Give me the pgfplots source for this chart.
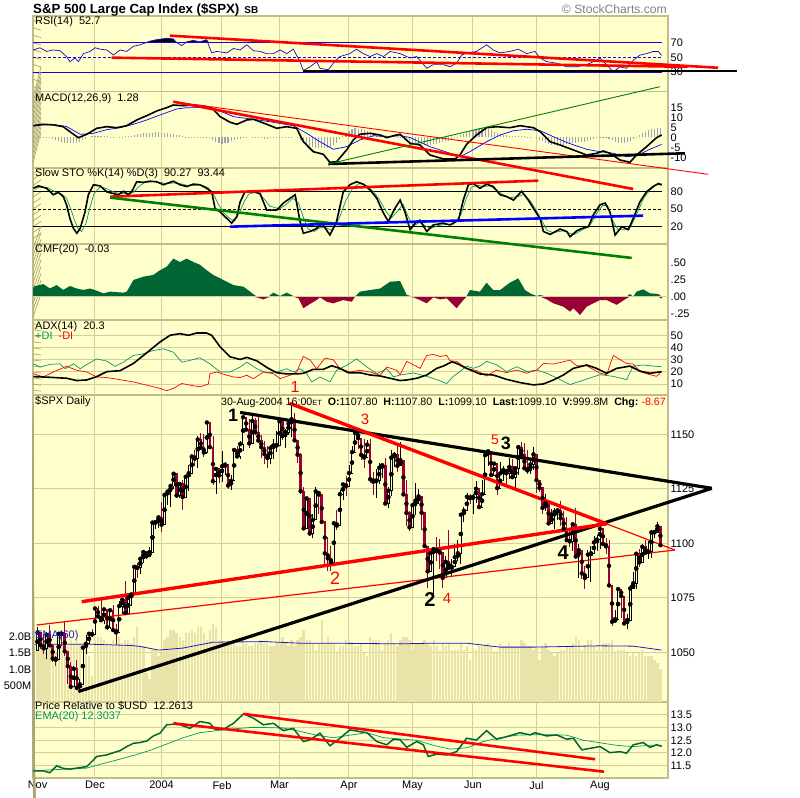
\documentclass[border=0pt]{standalone}
\usepackage{fontspec}
\setmainfont{Liberation Sans}
\usepackage{pgfplots}
\usepackage{pgfplotstable}
\pgfplotsset{compat=1.18}

\definecolor{bgy}{RGB}{255,255,204}
\definecolor{gtan}{RGB}{214,206,156}
\definecolor{btan}{RGB}{196,188,136}
\definecolor{tickc}{RGB}{170,164,120}
\definecolor{dnc}{RGB}{153,0,51}
\definecolor{volc}{RGB}{233,227,170}
\definecolor{volb}{RGB}{40,20,200}
\definecolor{cmfg}{RGB}{0,102,51}
\definecolor{cmfr}{RGB}{153,0,51}
\definecolor{dig}{RGB}{0,153,102}
\definecolor{rsib}{RGB}{30,0,220}
\definecolor{histc}{RGB}{160,160,185}
\definecolor{prg}{RGB}{0,102,51}
\definecolor{ltxt}{RGB}{128,128,128}
\definecolor{trg}{RGB}{0,128,0}

\pgfplotstableread{
t O H L C
0 1050.7 1061.4 1050.7 1059.0
1 1059.0 1059.0 1051.7 1053.3
2 1053.3 1058.4 1049.2 1051.8
3 1051.8 1058.9 1046.9 1058.1
4 1058.1 1062.4 1052.2 1053.2
5 1053.2 1053.7 1045.6 1047.1
6 1047.1 1048.2 1043.5 1046.6
7 1046.6 1059.1 1046.6 1058.5
8 1058.5 1059.6 1052.9 1058.4
9 1058.4 1063.7 1048.1 1050.4
10 1050.4 1050.4 1035.3 1043.6
11 1043.6 1045.6 1034.0 1034.2
12 1034.2 1043.5 1034.2 1042.4
13 1042.4 1046.5 1033.4 1033.7
14 1033.7 1037.6 1031.2 1035.3
15 1035.3 1052.1 1035.3 1052.1
16 1052.1 1058.0 1049.3 1053.9
17 1053.9 1058.5 1053.9 1058.5
18 1058.5 1060.6 1056.8 1058.2
19 1058.2 1070.5 1058.2 1070.1
20 1070.1 1071.2 1065.2 1066.6
21 1066.6 1074.3 1064.6 1064.7
22 1064.7 1070.4 1063.2 1069.7
23 1069.7 1069.7 1060.1 1061.5
24 1061.5 1069.6 1060.9 1069.3
25 1069.3 1071.9 1059.2 1060.2
26 1060.2 1063.0 1053.4 1059.1
27 1059.1 1073.6 1059.1 1071.2
28 1071.2 1074.8 1067.6 1074.1
29 1074.1 1082.8 1068.0 1068.0
30 1068.0 1075.9 1068.0 1075.1
31 1075.1 1076.5 1071.1 1076.5
32 1076.5 1089.5 1076.5 1089.2
33 1089.2 1091.1 1084.2 1088.7
34 1088.7 1092.9 1086.1 1092.9
35 1092.9 1096.0 1091.0 1096.0
36 1096.0 1096.4 1092.7 1094.0
37 1094.0 1098.5 1094.0 1095.9
38 1095.9 1109.5 1095.9 1109.5
39 1109.5 1109.8 1106.4 1109.6
40 1109.6 1112.6 1106.9 1111.9
41 1111.9 1118.9 1105.1 1108.5
42 1108.5 1122.2 1108.5 1122.2
43 1122.2 1124.5 1117.4 1123.7
44 1123.7 1126.3 1116.5 1126.3
45 1126.3 1131.9 1124.9 1131.9
46 1131.9 1131.9 1120.9 1121.9
47 1121.9 1127.9 1120.9 1127.2
48 1127.2 1129.1 1115.2 1121.2
49 1121.2 1130.8 1121.2 1130.5
50 1130.5 1136.0 1124.1 1132.1
51 1132.1 1139.8 1132.1 1139.8
52 1139.8 1142.9 1135.4 1138.8
53 1138.8 1149.2 1134.4 1147.6
54 1147.6 1150.5 1143.0 1143.9
55 1143.9 1150.3 1139.5 1141.6
56 1141.6 1155.4 1141.0 1155.4
57 1155.4 1155.4 1143.9 1144.1
58 1144.1 1149.1 1126.5 1128.5
59 1128.5 1134.4 1122.4 1134.1
60 1134.1 1134.4 1127.8 1131.1
61 1131.1 1142.5 1127.9 1135.3
62 1135.3 1137.4 1131.3 1136.0
63 1136.0 1136.0 1124.7 1126.5
64 1126.5 1131.2 1124.4 1128.6
65 1128.6 1142.8 1128.6 1142.8
66 1142.8 1144.5 1139.2 1139.8
67 1139.8 1147.0 1138.7 1145.5
68 1145.5 1158.9 1142.3 1157.8
69 1157.8 1157.8 1151.4 1152.1
70 1152.1 1156.9 1143.6 1145.8
71 1145.8 1158.9 1145.8 1156.1
72 1156.1 1157.4 1149.5 1151.0
73 1151.0 1158.6 1146.9 1147.1
74 1147.1 1149.8 1139.1 1144.1
75 1144.1 1146.7 1136.5 1140.9
76 1140.9 1144.5 1134.4 1139.1
77 1139.1 1145.2 1136.4 1143.7
78 1143.7 1147.7 1138.6 1144.9
79 1144.9 1151.7 1141.8 1144.9
80 1144.9 1157.5 1144.9 1156.0
81 1156.0 1156.5 1147.3 1149.1
82 1149.1 1152.4 1143.8 1151.0
83 1151.0 1154.9 1149.8 1154.9
84 1154.9 1163.2 1148.8 1156.9
85 1156.9 1159.9 1146.9 1147.2
86 1147.2 1147.3 1136.8 1140.6
87 1140.6 1141.5 1122.5 1123.9
88 1123.9 1125.8 1106.8 1106.8
89 1106.8 1120.6 1106.8 1120.6
90 1120.6 1120.6 1103.4 1104.5
91 1104.5 1113.6 1102.6 1110.7
92 1110.7 1125.8 1110.7 1123.8
93 1123.8 1123.8 1113.4 1122.3
94 1122.3 1122.7 1109.7 1109.8
95 1109.8 1109.8 1089.5 1095.4
96 1095.4 1102.8 1087.2 1093.1
97 1093.1 1098.9 1087.2 1091.3
98 1091.3 1110.4 1091.3 1109.2
99 1109.2 1115.3 1106.1 1108.1
100 1108.1 1124.4 1108.1 1122.5
101 1122.5 1127.6 1119.7 1127.0
102 1127.0 1130.8 1121.5 1126.2
103 1126.2 1135.7 1126.2 1132.2
104 1132.2 1144.8 1132.2 1141.8
105 1141.8 1150.6 1141.6 1150.6
106 1150.6 1150.6 1143.3 1148.2
107 1148.2 1148.2 1138.4 1140.5
108 1140.5 1148.0 1134.4 1139.3
109 1139.3 1147.3 1139.3 1145.2
110 1145.2 1147.8 1127.7 1129.4
111 1129.4 1132.5 1122.2 1128.2
112 1128.2 1134.1 1120.8 1128.8
113 1128.8 1136.8 1127.0 1134.6
114 1134.6 1136.2 1129.8 1135.8
115 1135.8 1139.3 1118.0 1118.2
116 1118.2 1125.7 1116.0 1124.1
117 1124.1 1142.8 1121.9 1139.3
118 1139.3 1141.9 1134.8 1140.6
119 1140.6 1145.1 1132.9 1135.5
120 1135.5 1146.6 1135.5 1138.1
121 1138.1 1138.1 1121.7 1122.4
122 1122.4 1128.8 1108.0 1113.9
123 1113.9 1114.8 1105.7 1107.3
124 1107.3 1118.2 1107.3 1117.5
125 1117.5 1127.7 1112.9 1119.6
126 1119.6 1125.1 1117.9 1121.5
127 1121.5 1121.5 1106.3 1114.0
128 1114.0 1114.0 1098.6 1098.7
129 1098.7 1098.7 1079.6 1087.1
130 1087.1 1095.7 1087.1 1095.5
131 1095.5 1097.6 1076.3 1097.3
132 1097.3 1102.8 1091.8 1096.4
133 1096.4 1102.1 1088.2 1095.7
134 1095.7 1095.7 1079.4 1084.1
135 1084.1 1094.1 1084.1 1091.5
136 1091.5 1105.9 1088.5 1088.7
137 1088.7 1092.6 1085.0 1089.2
138 1089.2 1099.6 1089.2 1093.6
139 1093.6 1101.3 1091.8 1095.4
140 1095.4 1113.8 1090.7 1113.1
141 1113.1 1116.7 1109.9 1114.9
142 1114.9 1123.0 1114.9 1121.3
143 1121.3 1122.7 1118.1 1120.7
144 1120.7 1122.7 1113.3 1121.2
145 1121.2 1128.5 1118.3 1125.0
146 1125.0 1125.0 1116.5 1116.6
147 1116.6 1129.2 1116.6 1122.5
148 1122.5 1140.5 1122.5 1140.4
149 1140.4 1142.2 1135.4 1142.2
150 1142.2 1142.2 1131.2 1131.3
151 1131.3 1136.5 1131.3 1136.5
152 1136.5 1136.5 1122.2 1125.3
153 1125.3 1137.4 1125.3 1132.0
154 1132.0 1135.3 1128.5 1133.6
155 1133.6 1133.6 1126.9 1132.1
156 1132.1 1138.9 1129.6 1135.0
157 1135.0 1138.8 1129.6 1130.3
158 1130.3 1135.1 1124.4 1134.4
159 1134.4 1144.2 1131.2 1144.1
160 1144.1 1146.3 1139.8 1140.7
161 1140.7 1145.9 1134.2 1134.4
162 1134.4 1142.6 1131.7 1133.4
163 1133.4 1138.3 1131.6 1136.2
164 1136.2 1144.2 1133.6 1140.8
165 1140.8 1140.8 1123.1 1128.9
166 1128.9 1129.2 1123.7 1125.4
167 1125.4 1125.4 1113.2 1116.2
168 1116.2 1122.4 1114.9 1118.3
169 1118.3 1119.1 1108.7 1109.1
170 1109.1 1115.6 1109.1 1112.8
171 1112.8 1116.1 1106.7 1114.4
172 1114.4 1116.3 1110.6 1115.1
173 1115.1 1119.6 1107.8 1111.5
174 1111.5 1114.6 1106.6 1106.7
175 1106.7 1112.2 1101.1 1101.4
176 1101.4 1106.4 1098.3 1100.9
177 1100.9 1108.9 1096.4 1108.7
178 1108.7 1116.3 1093.9 1093.9
179 1093.9 1099.7 1084.2 1096.8
180 1096.8 1096.8 1083.6 1086.2
181 1086.2 1089.8 1078.8 1084.1
182 1084.1 1096.7 1084.1 1094.8
183 1094.8 1098.8 1082.2 1095.4
184 1095.4 1103.5 1095.4 1100.4
185 1100.4 1103.7 1096.4 1101.7
186 1101.7 1108.6 1097.2 1106.6
187 1106.6 1106.6 1099.3 1099.7
188 1099.7 1102.5 1095.2 1098.6
189 1098.6 1101.4 1079.6 1080.7
190 1080.7 1080.7 1062.2 1064.0
191 1064.0 1069.5 1063.9 1065.2
192 1065.2 1079.0 1065.2 1079.0
193 1079.0 1079.0 1065.9 1075.8
194 1075.8 1075.8 1062.4 1063.2
195 1063.2 1067.6 1060.7 1064.8
196 1064.8 1080.7 1064.8 1079.3
197 1079.3 1086.8 1079.3 1081.7
198 1081.7 1095.2 1078.9 1095.2
199 1095.2 1097.5 1089.1 1091.2
200 1091.2 1099.5 1091.2 1098.4
201 1098.4 1101.4 1094.7 1095.7
202 1095.7 1100.9 1092.8 1096.2
203 1096.2 1106.3 1093.2 1105.0
204 1105.0 1106.3 1102.2 1105.1
205 1105.1 1109.7 1104.6 1107.8
206 1107.8 1107.8 1099.1 1099.1
}\candles

\pgfplotstableread{
v
1.7
1.8
1.9
1.8
1.7
1.6
1.5
1.8
1.8
1.7
1.7
1.9
1.8
1.9
1.8
1.6
1.8
1.4
0.8
1.9
2.0
2.0
1.9
1.8
1.7
1.9
1.8
2.0
1.8
1.9
1.9
1.8
2.0
2.3
1.7
1.7
0.9
0.7
1.6
1.6
1.4
1.5
1.9
2.0
2.2
2.2
2.1
2.0
1.9
2.1
2.1
2.2
2.1
2.3
2.3
2.1
1.9
2.2
2.4
2.3
1.9
1.9
1.8
1.9
1.8
1.8
1.7
1.7
2.0
1.8
1.7
1.7
1.8
1.8
1.9
1.8
1.9
1.7
1.7
1.8
1.8
2.0
1.8
1.7
1.9
1.7
1.9
2.0
2.2
1.9
1.9
1.8
1.6
1.8
2.5
1.8
2.0
1.8
1.8
1.5
1.7
1.7
1.9
1.9
1.8
1.7
1.7
1.8
1.5
1.4
2.0
1.9
1.9
1.9
1.6
1.8
1.9
2.1
1.8
1.7
1.9
2.0
2.0
1.9
1.6
1.8
1.8
1.8
1.9
1.8
1.7
1.9
1.7
1.6
1.8
1.7
1.8
1.6
1.6
1.6
1.8
1.6
1.7
1.3
1.6
1.6
1.7
1.7
1.7
1.8
1.7
1.5
1.5
1.8
1.7
1.7
1.8
1.7
1.7
1.7
1.9
1.8
1.7
1.7
1.6
1.7
1.3
1.7
1.8
1.6
1.5
1.4
1.5
1.6
1.6
1.7
1.7
1.8
2.0
1.9
1.6
1.7
1.9
1.9
1.7
1.6
1.6
1.8
1.8
1.8
1.9
1.5
1.6
1.6
1.6
1.5
1.4
1.5
1.4
1.5
1.6
1.4
1.4
1.4
1.3
1.2
1.0
}\volume

\pgfplotstableread{
h
0.3
0.4
0.2
0.1
-0.5
-1.0
-1.5
-2.0
-2.3
-2.6
-2.9
-3.0
-3.0
-2.8
-2.2
-1.5
-0.8
0
0.5
0.8
0.9
0.8
0.7
0.5
0.3
0.1
0.0
0.2
0.3
0.5
0.7
0.9
1.2
1.5
1.8
2.0
2.2
2.3
2.4
2.5
2.5
2.4
2.3
2.1
1.9
1.6
1.3
1.0
0.6
0.3
0.2
0.1
0.2
0.3
0.2
0.1
0.1
-0.1
-1.2
-2.2
-2.8
-3.1
-3.0
-2.6
-2.0
-1.4
-1.0
-0.8
-0.5
-0.2
0
-0.2
-0.3
-0.4
-0.5
-0.6
-0.6
-0.5
-0.4
-0.3
-0.2
-0.1
0.1
0.2
0.2
0
-0.5
-1.5
-2.8
-3.8
-4.5
-5.0
-5.3
-5.5
-5.5
-5.5
-5.4
-5.0
-4.0
-2.8
-1.0
0.8
2.2
3.4
4.2
4.5
4.4
4.0
3.5
3.0
2.5
2.0
1.7
1.5
1.3
1.1
0.9
0.8
0.6
0.4
0.1
-0.5
-1.2
-2.0
-2.6
-3.0
-3.3
-3.5
-3.7
-3.8
-3.7
-3.5
-3.2
-2.8
-2.4
-2.0
-1.6
-1.0
-0.4
0.3
1.0
1.8
2.5
3.2
3.8
4.2
4.5
4.5
4.3
4.0
3.5
2.8
2.2
1.6
1.2
1.0
0.9
0.8
0.8
0.9
0.8
0.6
0.4
0.2
0
-0.5
-1.2
-2.0
-2.8
-3.4
-3.8
-4.0
-4.2
-4.0
-3.7
-3.4
-3.0
-2.8
-2.6
-2.5
-2.4
-2.2
-1.8
-1.2
-0.6
-0.1
0.3
0.4
0.2
-0.6
-1.5
-2.3
-2.8
-3.0
-2.9
-2.5
-1.8
-0.8
0.2
1.2
2.0
2.8
3.5
4.0
4.4
4.6
4.7
}\hist

\pgfplotstableread{
t c
-1.5 0
-1.4 0.147
1.9 0.186
4.1 0.12
6.3 0.17
8.5 0.10
10.7 0.157
13.0 0.12
15.2 0.10
17.4 0.12
19.6 0.088
21.8 0.049
24.0 0.074
28.4 0.059
29.5 0.074
31.7 0.245
35.0 0.294
38.3 0.32
40.5 0.39
42.7 0.44
44.9 0.56
47.1 0.51
49.3 0.56
51.5 0.51
53.7 0.47
55.9 0.39
58.1 0.32
60.4 0.27
62.6 0.22
64.8 0.17
68.1 0.147
70.3 0.074
72.5 -0.01
74.7 -0.04
76.3 -0.01
78.0 0.06
80.2 0.01
82.4 0.06
84.6 0.01
86.3 -0.025
87.9 -0.17
90.1 -0.108
92.3 -0.05
93.4 -0.01
95.6 -0.074
97.8 -0.098
101.1 -0.05
103.9 -0.074
105.0 0
106.6 0.074
110.0 0.098
113.3 0.12
116.6 0.22
119.9 0.23
122.1 0.025
124.3 -0.01
126.5 -0.05
128.7 -0.098
130.9 -0.01
133.1 -0.04
135.3 -0.025
137.5 -0.12
138.6 -0.17
140.8 -0.05
141.9 0.01
143.0 0.098
146.3 0.074
148.5 0.206
150.7 0.098
153.0 0.098
156.2 0.206
159.0 0.27
161.2 0.098
162.9 0.05
165.1 0.01
166.2 0.025
168.4 -0.04
170.6 -0.098
173.9 -0.147
176.1 -0.22
177.2 -0.17
179.4 -0.27
181.6 -0.147
183.8 -0.098
186.0 -0.05
188.2 -0.05
191.5 -0.12
194.8 -0.025
195.9 0.04
197.0 0
198.1 0.074
200.3 0.108
202.5 0.05
205.3 0.04
206.4 -0.03
206.5 0
}\cmf

\pgfplotsset{
  panel/.style={
    set layers,
    scale only axis, width=635bp, anchor=south west,
    xmin=-1.5, xmax=208.5, clip=false,
    axis background/.style={fill=bgy},
    axis line style={btan, line width=1.5bp},
    xtick={19,41,61,80,103,124,144,165,186},
    xticklabels={},
    xmajorgrids,
    major grid style={gtan, line width=1bp},
    ytick pos=right,
    yticklabel pos=right,
    major tick length=0pt,
    minor tick length=0pt,
    yticklabel style={font=\fontsize{11}{13}\selectfont, anchor=west, inner sep=0pt, xshift=2.5bp},
    xticklabel style={font=\fontsize{11}{13}\selectfont, anchor=north, inner sep=0pt, yshift=-3bp},
  },
}
\newcommand{\lticks}[1]{\pgfplotsinvokeforeach{#1}{\draw[tickc, line width=0.7bp] (axis cs:-1.5,##1) -- ++(3.5bp,0);}}

\begin{document}
\begin{tikzpicture}

% ---------------- RSI
\begin{axis}[panel, at={(33bp,706.3bp)}, height=75.7bp, ymin=3.1, ymax=106.3,
  ytick={30,50,70}, yticklabels={30,50,70}]
\lticks{10,20,...,100}
\addplot[fill=black, draw=none] coordinates {(35.8,70)(37.2,72)(39.4,74)(42.7,76)(44.9,75)(46,70)} -- cycle;
\addplot[fill=black, draw=none] coordinates {(48.6,70)(49.3,71)(51.5,73)(53.7,71)(55.9,74)(56.8,70)} -- cycle;
\draw[rsib, line width=0.9bp] (axis cs:-1.5,70) -- (axis cs:206.4,70);
\draw[rsib, line width=0.9bp] (axis cs:-1.5,30) -- (axis cs:206.4,30);
\draw[rsib, line width=0.9bp, dash pattern=on 3bp off 2bp] (axis cs:-1.5,50) -- (axis cs:206.4,50);
\addplot[rsib, line width=0.7bp] coordinates {(-1.4,60)(0.8,63)(3,58)(5.2,60)(7.4,59)(9.6,51)(10.7,44)(12.4,49)(13.5,44)(15.2,55)(17.4,58)(19,63)(20.7,61)(22.9,60)(25.1,53)(27.3,60)(29.5,58)(31.7,65)(33.9,67)(37.2,72)(39.4,74)(42.7,76)(44.9,75)(46,70)(47.7,66)(49.3,71)(51.5,73)(53.7,71)(55.9,74)(57.6,56)(59.2,58)(62.6,56)(64.8,62)(67,60)(69.2,67)(71.4,59)(73.6,58)(75.8,55)(78,55)(80.2,60)(82.4,55)(84.6,61)(86.8,44)(87.9,32)(90.1,37)(92.3,44)(93.4,35)(96.2,33)(97.8,42)(100,51)(103.3,55)(105.5,61)(107.7,55)(110,51)(112.2,55)(114.4,51)(116.6,58)(119.9,55)(123.2,49)(125.4,51)(128.7,35)(130.9,40)(134.2,40)(136.4,37)(138.6,42)(140.3,53)(141.9,56)(145.2,58)(148.5,67)(150.7,60)(153,56)(156.2,58)(159,61)(161.8,55)(164.5,58)(166.2,49)(168.4,44)(171.7,42)(175,37)(178.3,37)(181.6,40)(184.9,46)(186,49)(188.2,40)(190.4,30)(192.6,37)(194.8,35)(197,46)(199.2,53)(201.4,55)(203.6,58)(205.3,58)(206.4,52.7)};
\draw[red, line width=2.6bp] (axis cs:43.8,79.5) -- (axis cs:225.1,35.7);
\draw[red, line width=2.6bp] (axis cs:24.5,49.5) -- (axis cs:215,37);
\draw[black, line width=2.6bp] (axis cs:87.9,31.4) -- (axis cs:231.2,31.4);
\end{axis}

% ---------------- MACD
\begin{axis}[panel, at={(33bp,630bp)}, height=76.3bp, ymin=-15.25, ymax=22.9,
  ytick={-10,-5,0,5,10,15}, yticklabels={-10,-5,0,5,10,15}]
\lticks{-12.5,-10,...,20}
\addplot[ycomb, histc, line width=1.1bp] table[x expr=\coordindex, y=h] {\hist};
\addplot[blue, line width=0.7bp] coordinates {(-1.4,6.0)(5.2,6.5)(9.6,5.5)(14.1,1.6)(18.5,2.1)(22.9,3.9)(27.3,4.9)(31.7,6.6)(36.1,8.75)(40.5,11.25)(46.0,14.25)(49.3,14.9)(56.0,15.0)(60.4,13.25)(64.8,10.4)(71.4,9.1)(78.0,7.6)(84.6,5.9)(89.0,2.1)(93.4,-2.1)(97.8,-5.9)(102.2,-4.6)(106.6,-1.25)(111.1,0.9)(115.5,0.4)(119.9,0.9)(123.2,0)(129.8,-4.6)(134.2,-6.75)(139.7,-9.6)(143.0,-7.1)(148.5,-2.1)(153.0,1.25)(157.4,3.4)(161.8,4.1)(166.2,3.4)(170.6,0.4)(175.0,-2.5)(181.6,-5.9)(186.0,-7.1)(190.4,-7.9)(194.8,-9.6)(198.1,-9.1)(202.5,-5.9)(206.4,-3.4)};
\addplot[black, line width=1.6bp] coordinates {(-1.4,5.9)(1.9,6.6)(5.2,6.3)(8.5,5.4)(10.7,2.9)(13.5,-0.1)(16.3,1.6)(19.6,4.6)(22.9,5.4)(26.2,4.9)(29.5,5.9)(32.8,8.75)(36.1,10.9)(39.4,13.25)(42.7,14.9)(44.9,16.25)(48.2,15.9)(51.5,16.25)(54.8,15.75)(57.6,14.9)(60.4,10.4)(63.7,7.6)(65.9,6.6)(69.2,8.75)(71.4,9.1)(75.8,6.6)(79.1,4.6)(82.4,5.4)(85.7,4.6)(87.9,-2.1)(91.2,-7.1)(94.5,-8.4)(96.7,-12.4)(98.9,-12.1)(102.2,-6.25)(104.4,-1.25)(106.6,1.6)(110.0,2.1)(113.3,1.25)(115.5,-0.1)(117.7,0.9)(119.9,1.6)(123.2,-2.9)(126.5,-3.75)(129.8,-8.75)(134.2,-10.75)(138.1,-10.75)(139.7,-8.75)(141.9,-3.4)(145.2,1.25)(148.5,4.9)(151.8,5.4)(156.2,4.9)(159.6,5.9)(164.0,4.9)(166.2,2.9)(169.5,-2.1)(172.8,-3.75)(177.2,-6.25)(181.6,-8.75)(184.9,-7.9)(187.1,-6.75)(189.3,-7.9)(192.6,-11.25)(195.9,-12.4)(198.1,-8.75)(201.4,-4.6)(204.7,-0.1)(206.4,1.28)};
\draw[red, line width=2.6bp] (axis cs:44.9,17.9) -- (axis cs:197.0,-25.75);
\draw[red, line width=0.9bp] (axis cs:44.9,17.9) -- (axis cs:221.8,-18.4);
\draw[black, line width=2.6bp] (axis cs:96.2,-13.25) -- (axis cs:214.1,-7.9);
\draw[trg, line width=0.9bp] (axis cs:96.2,-13.25) -- (axis cs:205.8,25.4);
\end{axis}

% ---------------- Slow STO
\begin{axis}[panel, at={(33bp,554bp)}, height=76bp, ymin=-9.2, ymax=119.3,
  ytick={20,50,80}, yticklabels={20,50,80}]
\lticks{0,10,...,110}
\draw[black, line width=0.7bp] (axis cs:-1.5,80) -- (axis cs:206.4,80);
\draw[black, line width=0.7bp] (axis cs:-1.5,20) -- (axis cs:206.4,20);
\draw[black, line width=0.7bp, dash pattern=on 3bp off 2bp] (axis cs:-1.5,50) -- (axis cs:206.4,50);
\addplot[dig, line width=0.7bp] coordinates {(-1.4,86)(1,87)(3.5,86)(6,78)(8,75)(9.6,68)(11,50)(12.3,30)(13.5,16)(14.6,12)(16,25)(17.2,50)(18.6,75)(20.7,88)(23,84)(25.5,78)(27.5,76)(29.5,77)(31.5,77)(33.5,88)(35.5,95)(38,96)(40.5,95)(42.5,93)(45.5,94)(48,92)(50,89)(52,90)(54.5,90)(56.5,86)(58.5,72)(59.8,58)(61.5,44)(63.5,34)(65.2,30)(66.8,44)(68.3,62)(69.8,75)(72.5,79)(74.8,68)(76.8,55)(80,50)(82.3,58)(84.5,68)(86.3,60)(88,35)(89.5,16)(91.5,12)(93.5,19)(95.5,18)(97.5,13)(99.8,35)(102,65)(104.3,86)(106.5,93)(108.8,90)(111,80)(113.3,64)(115.2,46)(117,35)(119,46)(120.9,58)(122.5,38)(124.3,21)(126.2,27)(128,22)(130,17)(132.5,22)(135,24)(137.5,24)(140,40)(141.8,68)(143.5,87)(145.5,90)(147.5,88)(149.7,89)(152,81)(154,74)(156.3,69)(158.8,71)(161,75)(163.2,62)(165,47)(166.8,30)(168.5,14)(170.5,10)(173.8,13)(176,9)(177.5,7)(179.2,12)(181,17)(183,25)(185,43)(186.8,56)(188.5,56)(190,32)(192,15)(194.3,15)(196.2,20)(198.2,42)(200.4,68)(202.5,82)(204.4,90)(206.4,93.4)};
\addplot[black, line width=1.6bp] coordinates {(-1.4,85)(0.3,89)(3.0,85)(5.2,74)(6.9,78)(8.5,71)(9.6,57)(10.7,34)(11.9,17)(13.0,9)(14.1,17)(15.7,45)(16.8,74)(18.5,91)(20.7,89)(22.9,79)(25.1,76)(26.7,74)(28.4,80)(30.0,74)(31.1,79)(32.8,96)(35.0,95)(37.2,97)(39.4,96)(41.6,91)(44.9,97)(47.1,91)(49.3,88)(51.5,92)(53.7,91)(55.9,85)(57.6,79)(58.7,51)(60.4,45)(62.6,34)(64.2,26)(65.9,37)(67.0,62)(68.6,79)(71.4,79)(73.6,76)(75.8,48)(79.1,48)(81.3,60)(83.5,68)(85.2,74)(86.8,29)(87.9,9)(90.1,12)(92.3,17)(94.0,26)(96.7,6)(98.9,29)(101.1,79)(103.3,91)(105.5,96)(107.7,92)(110.0,82)(112.2,68)(114.4,43)(116.0,29)(118.2,51)(119.9,65)(121.5,45)(123.2,15)(125.4,29)(126.5,31)(128.7,12)(130.9,23)(134.2,26)(136.4,23)(139.2,31)(140.8,65)(142.5,91)(144.1,93)(146.3,85)(148.5,92)(150.7,88)(153.0,74)(155.1,71)(157.4,65)(160.1,80)(162.3,65)(164.0,51)(166.2,34)(167.3,12)(169.5,7)(172.8,16)(175.0,12)(176.1,3)(178.3,13)(180.0,17)(182.2,20)(183.8,40)(186.0,57)(187.7,60)(189.3,45)(191.0,6)(193.2,20)(195.4,15)(197.0,34)(199.2,62)(201.4,79)(203.6,88)(205.3,93)(206.4,90.27)};
\draw[red, line width=2.6bp] (axis cs:24.0,70.8) -- (axis cs:165.6,97.9);
\draw[trg, line width=2.6bp] (axis cs:24.0,69.2) -- (axis cs:196.5,-32.8);
\draw[blue, line width=2.6bp] (axis cs:63.7,20.1) -- (axis cs:200.3,38.7);
\end{axis}

% ---------------- CMF
\begin{axis}[panel, at={(33bp,478bp)}, height=76bp, ymin=-0.343, ymax=0.775,
  ytick={-0.25,0,0.25,0.5}, yticklabels={-.25,.00,.25,.50}]
\lticks{-0.3,-0.2,...,0.7}
\addplot[fill=cmfg, draw=none, y filter/.expression={max(y,0)}] table[x=t, y=c] {\cmf} -- cycle;
\addplot[fill=cmfr, draw=none, y filter/.expression={min(y,0)}] table[x=t, y=c] {\cmf} -- cycle;
\draw[gtan, line width=0.8bp] (axis cs:-1.5,0) -- (axis cs:208.5,0);
\end{axis}

% ---------------- ADX
\begin{axis}[panel, at={(33bp,403bp)}, height=75bp, ymin=0.94, ymax=63.1,
  ytick={10,20,30,40,50}, yticklabels={10,20,30,40,50}, ymajorgrids]
\lticks{5,10,...,60}
\addplot[dig, line width=0.7bp] coordinates {(-1.4,26.8)(0.8,24.1)(4.1,26.3)(7.4,26.8)(9.1,22.7)(11.9,26.8)(14.1,22.7)(16.3,26.3)(19.6,30.9)(22.9,29)(25.6,24.7)(28.4,28.2)(31.7,33.7)(35.0,35.1)(38.3,37.8)(41.6,39.2)(44.9,36.4)(47.7,28.2)(50.4,29.6)(53.7,31.8)(57.0,26.8)(60.4,20)(63.7,20)(67.0,24.1)(69.2,28.2)(72.5,22.7)(75.8,19.2)(79.1,20)(82.4,22.7)(84.6,20)(86.8,22.7)(89.0,18.6)(90.7,11.8)(93.4,15.9)(96.7,11.8)(98.9,21.4)(102.2,25.5)(105.5,30.9)(108.9,24.1)(112.2,18.6)(115.5,22.7)(117.7,15.9)(119.9,17.5)(124.3,19.2)(128.7,16.4)(132.0,13.7)(135.3,10.4)(137.5,16.4)(139.7,20.3)(141.9,24.9)(144.1,23)(146.3,24.9)(148.5,28.8)(151.8,26)(155.1,20.3)(158.5,24.4)(161.8,20.3)(165.1,21.6)(168.4,19)(172.8,13.7)(176.1,9.6)(179.4,12.3)(182.7,15)(186.0,17.8)(190.4,16.4)(194.8,13.7)(197.0,24.9)(200.3,25.8)(203.6,24.9)(206.4,24.4)};
\addplot[red, line width=0.7bp] coordinates {(-1.4,18.6)(1.9,15.9)(5.2,20)(9.6,24.7)(13.0,21.4)(16.3,20)(19.6,15.9)(22.9,15.4)(27.3,13.6)(31.7,11.8)(36.1,9.1)(40.5,6.4)(42.7,4.5)(44.9,6.4)(47.7,10.5)(50.4,9.1)(53.7,7.7)(56.5,10)(57.0,18.6)(59.2,20)(62.6,17.3)(64.8,15.9)(67.0,15.4)(69.2,17.3)(71.4,14.5)(74.7,20)(78.0,18.6)(80.2,14.5)(83.5,17.3)(85.7,20)(87.9,32.9)(90.1,30.1)(92.3,22.7)(95.1,31.5)(97.8,30.1)(100.0,22.7)(103.3,20)(106.6,21.4)(110.0,20)(113.3,17.3)(115.5,24.1)(118.8,21.4)(119.9,17.8)(122.1,28.8)(126.5,23)(128.7,33.7)(130.9,34.5)(133.1,32.9)(135.3,33.7)(136.4,29.3)(138.6,28.8)(141.9,23)(145.2,21.1)(148.5,16.7)(151.8,21.6)(155.1,19.5)(158.5,21.6)(161.8,19)(165.1,21.6)(167.3,27.1)(170.6,26.6)(173.9,28.5)(176.1,29.9)(178.3,25.2)(181.6,25.2)(186.0,19)(188.2,17.8)(190.4,33.7)(192.6,30.3)(194.8,27.1)(197.0,26.6)(199.2,20.3)(202.5,17.8)(204.7,16.4)(206.4,20.3)};
\addplot[black, line width=1.6bp] coordinates {(-1.4,16.2)(4.1,15.6)(9.6,14.8)(13.0,12.9)(16.3,13.4)(19.6,16.2)(22.9,20.3)(27.3,21.1)(31.7,27.1)(36.1,35.9)(40.5,44.9)(43.8,50.4)(47.1,51.8)(49.9,50.4)(52.6,52.3)(55.9,52.3)(57.6,50.4)(60.4,40.8)(63.7,32.6)(67.0,30.4)(69.2,32.1)(72.5,29.3)(75.8,23.8)(79.1,19.4)(82.4,18.4)(85.7,18.4)(87.9,18.9)(91.2,22.2)(94.5,22.2)(97.3,25.2)(100.0,23)(102.8,19.4)(106.6,19.4)(110.0,17.5)(113.3,16.7)(116.6,14.8)(119.9,12.9)(122.1,13.4)(125.4,14.8)(128.7,17.5)(132.0,23)(134.2,24.9)(137.0,28.4)(138.6,27.1)(141.9,23)(146.3,18.4)(150.7,17.5)(155.1,13.9)(159.6,11.2)(164.0,9.3)(167.3,10.1)(170.6,13.4)(173.9,17.5)(177.2,23)(181.6,25.8)(184.9,23)(188.2,18.9)(191.5,23)(195.9,24.9)(199.2,20.8)(202.5,18.9)(206.4,20.3)};
\end{axis}

% ---------------- Volume overlay
\begin{axis}[set layers, scale only axis, width=635bp, height=307bp, at={(33bp,96bp)}, anchor=south west,
  xmin=-1.5, xmax=208.5, ymin=0, ymax=9.40, clip=false,
  axis x line=none, axis y line*=left, y axis line style={draw=none},
  ytick={0.5,1,1.5,2}, yticklabels={500M,1.0B,1.5B,2.0B}, major tick length=0pt,
  yticklabel style={font=\fontsize{11}{13}\selectfont, anchor=east, inner sep=0pt, xshift=-1.5bp}]
\addplot[ycomb, volc, line width=2.3bp] table[x expr=\coordindex, y=v] {\volume};
\addplot[volb, line width=0.8bp] coordinates {(-1.4,1.77)(17,1.77)(31,1.73)(34,1.70)(40,1.59)(48,1.65)(58,1.83)(75,1.85)(87,1.80)(98,1.80)(120,1.78)(130,1.80)(142,1.80)(153,1.68)(164,1.68)(175,1.70)(186,1.72)(197,1.71)(206.4,1.59)};
\end{axis}

% ---------------- Price
\begin{axis}[panel, at={(33bp,96bp)}, height=307bp, ymin=1027.2, ymax=1168.0,
  ytick={1050,1075,1100,1125,1150}, yticklabels={1050,1075,1100,1125,1150}, ymajorgrids]
\lticks{1030,1035,...,1165}
% up candles
\addplot[only marks, mark=none, restrict expr to domain={\thisrow{C}-\thisrow{O}}{0:1000},
  error bars/.cd, y dir=both, y explicit, error mark=none, error bar style={draw=black, line width=0.8bp}]
  table[x=t, y=C, y error plus expr={\thisrow{H}-\thisrow{C}}, y error minus expr={\thisrow{C}-\thisrow{L}}] {\candles};
\addplot[only marks, mark=none, restrict expr to domain={\thisrow{C}-\thisrow{O}}{0:1000},
  error bars/.cd, y dir=both, y explicit, error mark=none, error bar style={draw=black, line width=2.6bp}]
  table[x=t, y expr={(\thisrow{O}+\thisrow{C})/2}, y error expr={abs(\thisrow{C}-\thisrow{O})/2+0.25}] {\candles};
\addplot[only marks, mark=none, restrict expr to domain={\thisrow{C}-\thisrow{O}}{0:1000},
  error bars/.cd, y dir=both, y explicit, error mark=none, error bar style={draw=bgy, line width=1.0bp}]
  table[x=t, y expr={(\thisrow{O}+\thisrow{C})/2}, y error expr={max(abs(\thisrow{C}-\thisrow{O})/2-0.2,0)}] {\candles};
% down candles
\addplot[only marks, mark=none, restrict expr to domain={\thisrow{C}-\thisrow{O}}{-1000:-0.001},
  error bars/.cd, y dir=both, y explicit, error mark=none, error bar style={draw=dnc, line width=0.8bp}]
  table[x=t, y=C, y error plus expr={\thisrow{H}-\thisrow{C}}, y error minus expr={\thisrow{C}-\thisrow{L}}] {\candles};
\addplot[only marks, mark=none, restrict expr to domain={\thisrow{C}-\thisrow{O}}{-1000:-0.001},
  error bars/.cd, y dir=both, y explicit, error mark=none, error bar style={draw=dnc, line width=2.6bp}]
  table[x=t, y expr={(\thisrow{O}+\thisrow{C})/2}, y error expr={abs(\thisrow{C}-\thisrow{O})/2+0.25}] {\candles};
% trend lines
\draw[red, line width=1.2bp] (axis cs:-0.3,1062.5) -- (axis cs:210.8,1096.9);
\draw[red, line width=1.2bp] (axis cs:188.2,1108.9) -- (axis cs:210.8,1096.9);
\draw[black, line width=3.2bp] (axis cs:67.0,1160.0) -- (axis cs:223.0,1125.2);
\draw[black, line width=3.2bp] (axis cs:13.5,1032.0) -- (axis cs:223.0,1125.2);
\draw[red, line width=3.4bp] (axis cs:14.6,1073.2) -- (axis cs:188.2,1108.9);
\draw[red, line width=3.4bp] (axis cs:83.3,1164.2) -- (axis cs:188.2,1108.9);
% wave labels
\node[font=\bfseries\fontsize{18}{20}\selectfont] at (axis cs:64.7,1158.9) {1};
\node[text=red, font=\fontsize{16}{18}\selectfont] at (axis cs:85.2,1171.6) {1};
\node[text=red, font=\fontsize{15}{17}\selectfont] at (axis cs:108.3,1157.0) {3};
\node[text=red, font=\fontsize{18}{20}\selectfont] at (axis cs:98.4,1084.1) {2};
\node[font=\bfseries\fontsize{20}{22}\selectfont] at (axis cs:129.8,1074.0) {2};
\node[text=red, font=\fontsize{15}{17}\selectfont] at (axis cs:135.4,1074.9) {4};
\node[text=red, font=\fontsize{14}{16}\selectfont] at (axis cs:151.3,1147.4) {5};
\node[font=\bfseries\fontsize{18}{20}\selectfont] at (axis cs:154.9,1146.0) {3};
\node[font=\bfseries\fontsize{20}{22}\selectfont] at (axis cs:173.8,1095.5) {4};
\end{axis}

% ---------------- Price relative
\begin{axis}[panel, at={(33bp,20bp)}, height=76bp, ymin=11.01, ymax=14.01,
  ytick={11.5,12,12.5,13,13.5}, yticklabels={11.5,12.0,12.5,13.0,13.5}, ymajorgrids,
  xticklabels={Dec,2004,Feb,Mar,Apr,May,Jun,Jul,Aug},
  extra x ticks={0}, extra x tick labels={Nov}, extra x tick style={grid=none}]
\lticks{11.25,11.5,...,13.75}
\addplot[dig, line width=0.7bp] coordinates {(-1.4,11.3)(9.6,11.36)(16.3,11.4)(20.7,11.55)(26.2,11.72)(31.7,11.9)(37.2,12.1)(42.7,12.35)(48.2,12.6)(53.7,12.8)(59.2,12.88)(64.8,12.95)(70.3,13.0)(75.8,13.0)(81.3,12.98)(86.8,12.85)(92.3,12.7)(97.8,12.6)(103.3,12.7)(108.9,12.8)(114.4,12.6)(119.9,12.55)(125.4,12.5)(130.9,12.3)(136.4,12.15)(141.9,12.2)(147.4,12.45)(153.0,12.6)(158.5,12.7)(164.0,12.72)(169.5,12.72)(175.0,12.7)(180.5,12.5)(186.0,12.4)(191.5,12.3)(197.0,12.25)(202.5,12.3)(206.4,12.30)};
\addplot[prg, line width=1.5bp] coordinates {(-1.4,11.29)(1.9,11.29)(4.1,11.22)(6.3,11.49)(8.5,11.39)(10.7,11.36)(14.1,11.42)(16.3,11.46)(19.6,11.86)(22.9,11.92)(25.1,12.01)(27.3,12.09)(29.5,12.25)(31.7,12.38)(33.9,12.41)(36.1,12.47)(38.3,12.67)(40.5,12.78)(42.7,13.11)(44.9,13.13)(47.1,13.11)(50.4,12.97)(53.7,13.24)(57.0,13.17)(58.7,12.93)(61.5,12.93)(64.8,13.17)(68.1,13.54)(71.4,13.37)(74.7,13.11)(78.0,13.17)(81.3,12.88)(84.6,12.97)(87.9,12.45)(90.1,12.51)(93.4,12.78)(96.7,12.28)(100.0,12.58)(103.3,12.91)(106.6,12.84)(108.9,12.80)(112.2,12.45)(115.5,12.32)(117.7,12.54)(119.9,12.52)(122.1,12.22)(125.4,12.45)(127.6,12.32)(129.2,11.86)(132.0,11.95)(135.3,11.92)(138.6,12.05)(141.9,12.58)(145.2,12.51)(148.5,12.88)(151.8,12.54)(155.1,12.64)(159.6,12.80)(162.9,12.71)(164.5,12.80)(168.4,12.67)(171.7,12.71)(175.0,12.54)(177.2,12.58)(180.0,12.12)(182.7,12.18)(186.0,12.25)(189.3,12.01)(192.6,12.05)(194.8,11.99)(197.0,12.32)(200.3,12.41)(202.5,12.22)(204.7,12.32)(206.4,12.26)};
\draw[red, line width=2.6bp] (axis cs:68.1,13.54) -- (axis cs:184.4,11.75);
\draw[red, line width=2.6bp] (axis cs:44.9,13.17) -- (axis cs:187.3,11.26);
\end{axis}

% ---------------- texts
\node[anchor=base west, inner sep=0pt, font=\bfseries\fontsize{13.3}{15}\selectfont] at (33bp,784bp) {S\&P 500 Large Cap Index (\$SPX)\hspace{5bp}{\fontsize{10}{12}\selectfont SB}};
\node[anchor=base east, inner sep=0pt, text=ltxt, font=\fontsize{12.2}{14}\selectfont] at (667bp,784.7bp) {© StockCharts.com};
\node[anchor=base west, inner sep=0pt, font=\fontsize{11}{13}\selectfont] at (35bp,773bp) {RSI(14)\ \ 52.7};
\node[anchor=base west, inner sep=0pt, font=\fontsize{11}{13}\selectfont] at (35bp,696.3bp) {MACD(12,26,9)\ \ 1.28};
\node[anchor=base west, inner sep=0pt, font=\fontsize{11}{13}\selectfont] at (35bp,621bp) {Slow STO \%K(14) \%D(3)\ \ 90.27\ \ 93.44};
\node[anchor=base west, inner sep=0pt, font=\fontsize{11}{13}\selectfont] at (35bp,545.3bp) {CMF(20)\ \ -0.03};
\node[anchor=base west, inner sep=0pt, font=\fontsize{11}{13}\selectfont] at (35bp,468.7bp) {ADX(14)\ \ 20.3};
\node[anchor=base west, inner sep=0pt, font=\fontsize{11}{13}\selectfont] at (35bp,458bp) {\textcolor{dig}{+DI}\ \ \textcolor{red}{-DI}};
\node[anchor=base west, inner sep=0pt, font=\fontsize{11}{13}\selectfont] at (35bp,393bp) {\$SPX Daily};
\node[anchor=base east, inner sep=0pt, font=\fontsize{10.7}{12}\selectfont] at (666bp,392.3bp) {30-Aug-2004 16:00{\fontsize{7.5}{9}\selectfont ET}\ \ \textbf{O:}1107.80\ \ \textbf{H:}1107.80\ \ \textbf{L:}1099.10\ \ \textbf{Last:}1099.10\ \ \textbf{V:}999.8M\ \ \textbf{Chg:}\ \textcolor{red}{-8.67}};
\node[anchor=base west, inner sep=0pt, text=volb, font=\fontsize{11}{13}\selectfont] at (35bp,159.7bp) {EMA(60)};
\node[anchor=base west, inner sep=0pt, font=\fontsize{11}{13}\selectfont] at (35bp,88bp) {Price Relative to \$USD\ \ 12.2613};
\node[anchor=base west, inner sep=0pt, text=dig, font=\fontsize{11}{13}\selectfont] at (35bp,78bp) {EMA(20) 12.3037};

\pgfresetboundingbox
\path[use as bounding box] (0,0) rectangle (800bp,798bp);
\end{tikzpicture}
\end{document}
